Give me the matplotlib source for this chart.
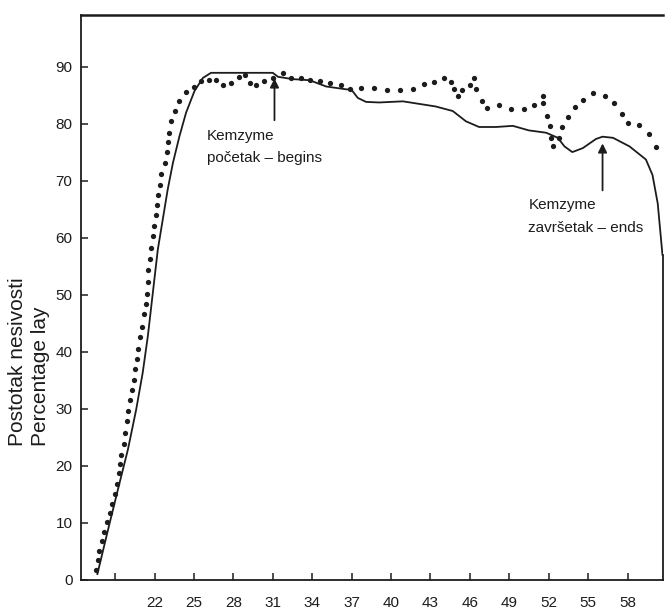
import matplotlib.pyplot as plt

plt.rcParams['font.family'] = ['Liberation Sans', 'DejaVu Sans']

# solid curve (x, y)
solid_x = [17.65, 18.58, 19.34, 19.97, 20.6, 21.1, 21.49, 21.87, 22.25, 23.0, 23.4, 23.9,
           24.4, 25.04, 25.68, 26.3, 31.0, 31.4, 32.5, 33.8, 35.07, 36.6, 36.97, 37.47,
           38.1, 39.1, 40.9, 43.4, 44.7, 45.7, 46.7, 48.0, 49.27, 50.5, 51.8, 52.7,
           53.2, 53.8, 54.6, 55.6, 56.1, 56.9, 58.15, 59.4, 59.9, 60.3, 60.66]
solid_y = [1.0, 9.9, 17.0, 22.8, 29.8, 36.3, 42.7, 50.3, 57.9, 68.4, 73.1, 77.8,
           81.9, 85.7, 88.0, 88.9, 88.9, 88.2, 87.8, 87.6, 86.5, 86.0, 86.0, 84.5,
           83.8, 83.7, 83.9, 83.0, 82.2, 80.4, 79.4, 79.4, 79.6, 78.8, 78.4, 77.5,
           76.0, 75.0, 75.7, 77.3, 77.7, 77.5, 76.0, 73.7, 71.0, 66.0, 57.0]

# dotted series, one value per dot
dot_x = [17.51, 17.69, 17.81, 17.99, 18.19, 18.40, 18.60, 18.80, 18.98, 19.11, 19.26,
         19.34, 19.47, 19.64, 19.77, 19.89, 20.0, 20.15, 20.25, 20.40, 20.53, 20.63,
         20.76, 20.93, 21.06, 21.22, 21.32, 21.41, 21.49, 21.54, 21.64, 21.73, 21.85,
         21.96, 22.08, 22.19, 22.3, 22.38, 22.51, 22.76, 22.94, 23.01, 23.09, 23.29,
         23.54, 23.9, 24.36, 24.99, 25.55, 26.13, 26.7, 27.2, 27.84, 28.42, 28.9, 29.3,
         29.74, 30.37, 31.0, 31.76, 32.4, 33.16, 33.8, 34.56, 35.37, 36.2, 36.9, 37.73,
         38.74, 39.7, 40.7, 41.65, 42.5, 43.3, 44.0, 44.6, 44.8, 45.1, 45.4, 46.0, 46.3,
         46.5, 46.9, 47.3, 48.2, 49.1, 50.1, 50.9, 51.55, 51.6, 51.9, 52.1, 52.2, 52.3,
         52.75, 53.0, 53.45, 54.0, 54.6, 55.4, 56.25, 56.95, 57.6, 58.0, 58.85, 59.6, 60.2]
dot_y = [1.75, 3.4, 5.1, 6.8, 8.4, 10.1, 11.7, 13.3, 15.0, 16.8, 18.7,
         20.3, 21.9, 23.8, 25.8, 27.8, 29.6, 31.5, 33.3, 35.1, 37.0, 38.8,
         40.5, 42.5, 44.3, 46.6, 48.4, 50.2, 52.2, 54.3, 56.3, 58.2, 60.2,
         62.1, 63.9, 65.8, 67.5, 69.3, 71.2, 73.1, 75.0, 76.7, 78.4, 80.4,
         82.2, 84.0, 85.5, 86.4, 87.5, 87.7, 87.6, 86.8, 87.2, 88.2, 88.5, 87.2,
         86.8, 87.4, 88.0, 88.9, 88.0, 88.0, 87.7, 87.4, 87.1, 86.8, 86.1, 86.25,
         86.25, 85.8, 85.8, 86.1, 87.0, 87.3, 88.0, 87.3, 86.0, 84.9, 85.8, 86.8, 88.0,
         86.0, 84.0, 82.75, 83.3, 82.5, 82.6, 83.3, 84.8, 83.6, 81.3, 79.5, 77.5, 76.1,
         77.5, 79.4, 81.1, 82.9, 84.2, 85.3, 84.8, 83.6, 81.75, 80.1, 79.7, 78.2, 75.9]

xtick_vals = list(range(19, 59, 3))
xtick_labels = [''] + [str(v) for v in xtick_vals[1:]]
ytick_vals = list(range(0, 100, 10))

ink = '#1c1c1c'

fig = plt.figure(figsize=(6.69, 6.09), dpi=100)
ax = fig.add_axes([0.121, 0.048, 0.870, 0.927])

ax.plot(solid_x, solid_y, color=ink, lw=1.3)
ax.plot(dot_x, dot_y, 'o', color=ink, ms=3.8, mew=0)

ax.set_xlim(16.4, 60.7)
ax.set_ylim(0, 99)
ax.set_xticks(xtick_vals)
ax.set_xticklabels(xtick_labels)
ax.set_yticks(ytick_vals)
ax.tick_params(direction='in', length=5, width=1.1, color=ink, labelsize=11,
               labelcolor=ink)
ax.tick_params(axis='x', pad=12)
ax.tick_params(axis='y', pad=6)
for s in ax.spines.values():
    s.set_linewidth(1.3)
    s.set_color(ink)
ax.spines['top'].set_linewidth(1.8)
ax.spines['right'].set_bounds(0, 57)

# arrows + notes
arrow = dict(arrowstyle='-|>', lw=1.3, color=ink, mutation_scale=13)
ax.annotate('', xy=(31.13, 88.4), xytext=(31.13, 80.1), arrowprops=arrow)
ax.text(26.0, 77.8, 'Kemzyme', fontsize=11, color=ink, va='center')
ax.text(26.0, 74.0, 'početak – begins', fontsize=11, color=ink, va='center')

ax.annotate('', xy=(56.1, 77.0), xytext=(56.1, 67.8), arrowprops=arrow)
ax.text(50.45, 65.7, 'Kemzyme', fontsize=11, color=ink, va='center')
ax.text(50.45, 61.6, 'završetak – ends', fontsize=11, color=ink, va='center')

fig.text(0.043, 0.268, 'Postotak nesivosti\nPercentage lay', rotation=90,
         ha='center', va='bottom', multialignment='left', fontsize=15,
         color=ink, linespacing=1.25)

fig.savefig('out.png', dpi=100)
